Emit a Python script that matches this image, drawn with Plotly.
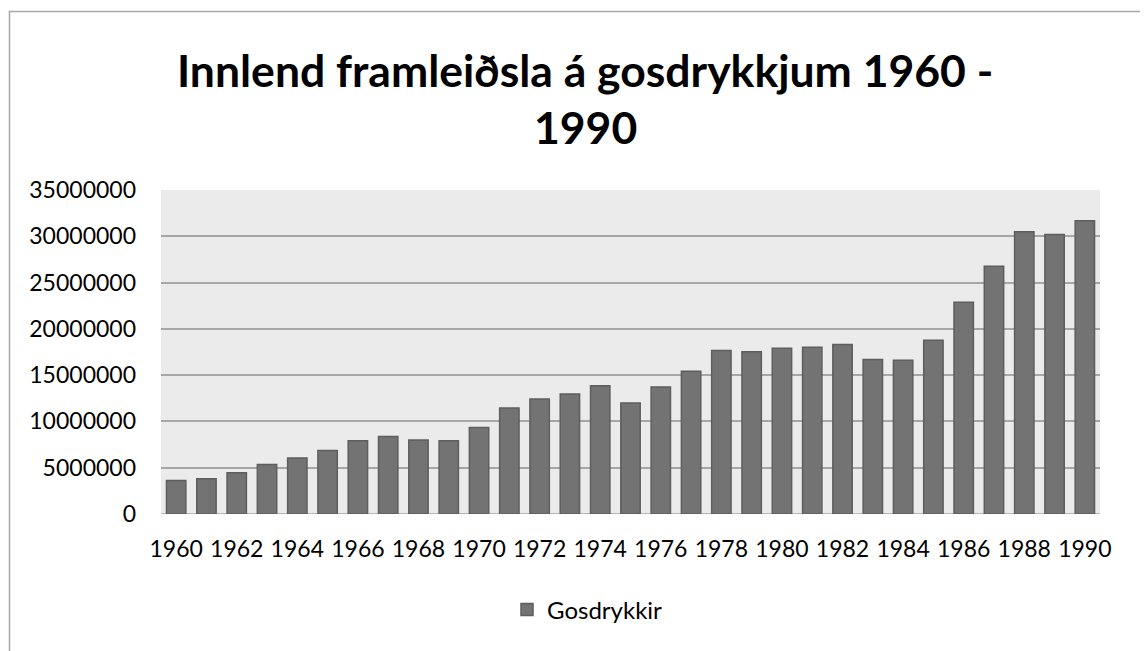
import plotly.graph_objects as go

years = list(range(1960, 1991))
values = [3630000, 3810000, 4460000, 5360000, 6040000, 6870000, 7910000, 8380000,
          7990000, 7910000, 9350000, 11440000, 12410000, 12950000, 13850000, 11980000,
          13710000, 15430000, 17660000, 17520000, 17910000, 18020000, 18310000, 16690000,
          16620000, 18780000, 22880000, 26760000, 30500000, 30180000, 31690000]
series_name = "Gosdrykkir"
title_line1 = "Innlend framleiðsla á gosdrykkjum 1960 -"
title_line2 = "1990"
y_ticks = [0, 5000000, 10000000, 15000000, 20000000, 25000000, 30000000, 35000000]
x_ticks = list(range(1960, 1991, 2))

OFF = 8  # default page body margin
W, H = 1148 - OFF, 651 - OFF
L, R, T, B = 161 - OFF, 1100 - OFF, 190 - OFF, 514 - OFF
pw, ph = R - L, B - T

def px_x(x):
    return (x - OFF - L) / pw

def px_y(y):
    return (B - (y - OFF)) / ph

FONT = "Lato"

fig = go.Figure()
fig.add_trace(go.Bar(
    x=years, y=values, name=series_name,
    marker=dict(color="#737373", line=dict(color="#5e5e5e", width=1.5)),
    showlegend=True,
))

fig.update_layout(
    width=W, height=H,
    margin=dict(l=L, r=W - R, t=T, b=H - B, pad=0),
    paper_bgcolor="white",
    plot_bgcolor="#ebebeb",
    bargap=0.36,
    font=dict(family=FONT, size=23, color="black"),
    showlegend=True,
    legend=dict(orientation="h", x=px_x(507), xanchor="left", y=px_y(610), yanchor="middle",
                font=dict(family=FONT, size=24, color="black"), itemwidth=30,
                bgcolor="rgba(0,0,0,0)"),
    xaxis=dict(range=[1959.5, 1990.5], tickmode="array", tickvals=x_ticks,
               ticktext=[str(v) for v in x_ticks], showgrid=False, zeroline=False,
               ticks="", showline=False, tickfont=dict(family=FONT, size=23), ticklabelstandoff=19),
    yaxis=dict(range=[0, 35000000], tickmode="array", tickvals=y_ticks,
               ticktext=[str(v) for v in y_ticks], showgrid=True, gridcolor="#a6a6a6",
               gridwidth=1.5, zeroline=False, ticks="", showline=False,
               tickfont=dict(family=FONT, size=23), ticklabelstandoff=24),
    annotations=[
        dict(text="<b>" + title_line1 + "</b>", x=px_x(585), y=px_y(70), xref="paper", yref="paper",
             xanchor="center", yanchor="middle", showarrow=False,
             font=dict(family=FONT, size=44.5, color="black")),
        dict(text="<b>" + title_line2 + "</b>", x=px_x(585), y=px_y(126), xref="paper", yref="paper",
             xanchor="center", yanchor="middle", showarrow=False,
             font=dict(family=FONT, size=44.5, color="black")),
    ],
    shapes=[
        dict(type="rect", xref="paper", yref="paper", x0=px_x(9.5), x1=px_x(1170),
             y0=px_y(700), y1=px_y(11.5), line=dict(color="#a6a6a6", width=1.5),
             fillcolor="rgba(0,0,0,0)"),
    ],
)
fig.add_hline(y=0, line=dict(color="#a6a6a6", width=1.5), layer="below")

fig.write_html("out.html")
